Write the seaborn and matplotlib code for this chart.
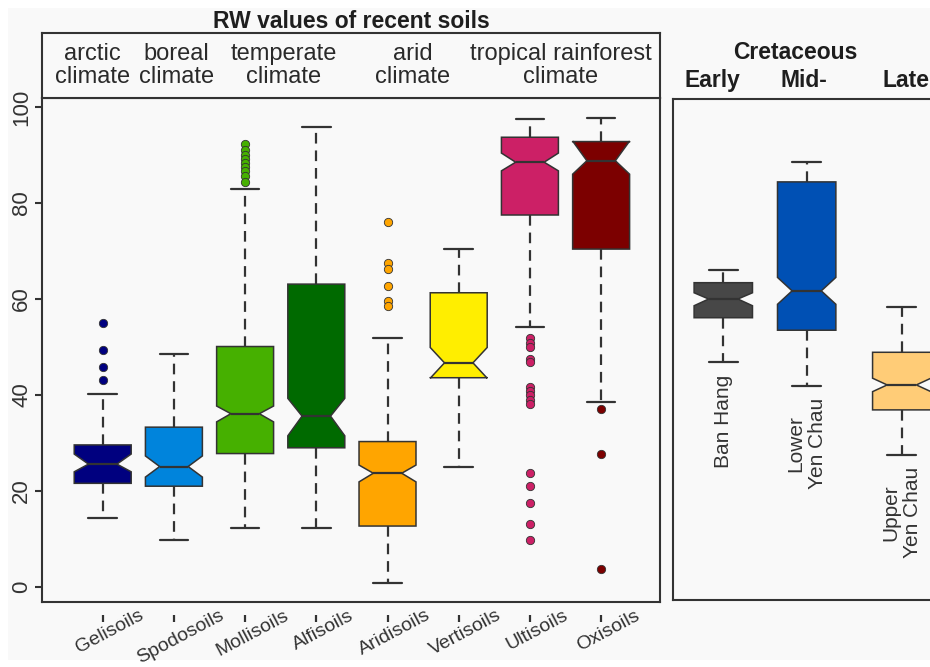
import matplotlib
matplotlib.use("Agg")
import matplotlib.pyplot as plt
import matplotlib.transforms as mtransforms
from matplotlib.patches import Rectangle
import seaborn as sns

# ---- recent soils: RW box statistics ----
soil_orders = ["Gelisoils", "Spodosoils", "Mollisoils", "Alfisoils",
               "Aridisoils", "Vertisoils", "Ultisoils", "Oxisoils"]
soil_whislo = [14.4, 9.8, 12.2, 12.2, 0.8, 24.9, 54.2, 38.6]
soil_q1 = [21.6, 21.0, 27.8, 29.0, 12.7, 43.6, 77.5, 70.4]
soil_cilo = [24.0, 22.9, 34.4, 31.5, 21.9, 43.5, 86.7, 86.0]
soil_median = [25.6, 25.1, 36.1, 35.6, 23.7, 46.7, 88.5, 88.8]
soil_cihi = [27.7, 27.3, 37.7, 39.3, 25.4, 49.9, 90.4, 92.9]
soil_q3 = [29.6, 33.3, 50.1, 63.1, 30.3, 61.3, 93.7, 92.8]
soil_whishi = [40.3, 48.5, 83.0, 95.9, 51.9, 70.5, 97.6, 97.8]
soil_outliers = [
    [55.1, 49.4, 45.9, 43.1],
    [],
    [92.3, 91.0, 90.1, 89.2, 88.3, 87.6, 86.7, 85.6, 84.4],
    [],
    [76.1, 67.4, 66.2, 62.7, 59.6, 58.5],
    [],
    [51.8, 50.9, 50.1, 47.6, 46.8, 41.7, 40.8, 39.9, 39.0, 38.1,
     23.8, 21.0, 17.6, 13.1, 9.8],
    [37.0, 27.8, 3.7],
]
soil_colors = ["#00007f", "#0084dc", "#46b000", "#006a00",
               "#ffa500", "#ffee00", "#cc2066", "#7c0000"]

climate_labels = ["arctic\nclimate", "boreal\nclimate", "temperate\nclimate",
                  "arid\nclimate", "tropical rainforest\nclimate"]

# ---- Cretaceous sites ----
site_names = ["Ban Hang", "Lower\nYen Chau", "Upper\nYen Chau"]
site_whislo = [46.8, 41.9, 27.5]
site_q1 = [56.1, 53.5, 36.9]
site_cilo = [58.6, 58.9, 40.7]
site_median = [60.0, 61.7, 42.1]
site_cihi = [61.3, 64.5, 43.5]
site_q3 = [63.4, 84.4, 48.9]
site_whishi = [66.0, 88.5, 58.3]
site_colors = ["#474747", "#0050b4", "#ffcc77"]
period_labels = ["Early", "Mid-", "Late"]

# ---- layout ----
soil_pos = list(range(1, len(soil_orders) + 1))
climate_pos = [0.857, 2.036, 3.546, 5.351, 7.43]
site_pos = [1.0, 2.0, 3.14]
period_pos = [0.865, 1.968, 3.19]

INK = "#333333"
BG = "#f9f9f9"

sns.set_theme(style="ticks")
plt.rcParams["font.family"] = ["Liberation Sans", "DejaVu Sans"]
plt.rcParams["axes.facecolor"] = BG

W, H = 930, 667
fig = plt.figure(figsize=(W / 100, H / 100), dpi=100, facecolor="white")
fig.add_artist(Rectangle((8 / W, 7 / H), 1, (660 - 8) / H,
                         transform=fig.transFigure, facecolor=BG,
                         edgecolor="none", zorder=-10))


def px_axes(left, top, right, bottom):
    return [left / W, 1 - bottom / H, (right - left) / W, (bottom - top) / H]


def box_stats(names, lo, q1, cilo, med, cihi, q3, hi, fliers):
    return [dict(label=n, whislo=a, q1=b, cilo=c, med=d, cihi=e, q3=f,
                 whishi=g, fliers=h)
            for n, a, b, c, d, e, f, g, h in
            zip(names, lo, q1, cilo, med, cihi, q3, hi, fliers)]


box_kw = dict(shownotches=True, patch_artist=True, showfliers=True,
              manage_ticks=False,
              boxprops=dict(edgecolor=INK, linewidth=1.1),
              whiskerprops=dict(color=INK, linewidth=1.6,
                                linestyle=(0, (4.8, 3.1))),
              capprops=dict(color=INK, linewidth=1.6),
              medianprops=dict(color=INK, linewidth=1.6),
              flierprops=dict(marker="o", markersize=6,
                              markeredgecolor=INK, markeredgewidth=0.6,
                              linestyle="none"))


def style_spines(ax, sides=("left", "right", "top", "bottom")):
    for s, sp in ax.spines.items():
        sp.set_visible(s in sides)
        sp.set_color(INK)
        sp.set_linewidth(1.5)


# ---- left panel: recent soils ----
ax = fig.add_axes(px_axes(42, 98, 660, 602))
soil_stats = box_stats(soil_orders, soil_whislo, soil_q1, soil_cilo,
                       soil_median, soil_cihi, soil_q3, soil_whishi,
                       soil_outliers)
art = ax.bxp(soil_stats, positions=soil_pos, widths=0.8, capwidths=0.4,
             **box_kw)
for patch, c in zip(art["boxes"], soil_colors):
    patch.set_facecolor(c)
for fl, c in zip(art["fliers"], soil_colors):
    fl.set_markerfacecolor(c)

ax.set_xlim(0.1475, 8.827)
ax.set_ylim(-3.125, 101.875)
ax.set_yticks([0, 20, 40, 60, 80, 100])
ax.set_xticks([])
ax.tick_params(axis="y", length=5, width=1.5, color=INK, labelcolor=INK,
               labelsize=16, labelrotation=90, pad=2)
for lab in ax.get_yticklabels():
    lab.set_va("center")
style_spines(ax)
ax.grid(False)

# detached tick marks below the panel
sec = ax.secondary_xaxis(-13 / 504)
sec.set_xticks(soil_pos)
sec.set_xticklabels([])
sec.spines["bottom"].set_visible(False)
sec.tick_params(axis="x", length=5, width=1.6, color=INK, direction="out")

lab_tr = mtransforms.blended_transform_factory(ax.transData, ax.transAxes) + \
    mtransforms.ScaledTranslation(0.07, 0, fig.dpi_scale_trans)
for p, name in zip(soil_pos, soil_orders):
    ax.text(p, -5 / 504, name, transform=lab_tr, rotation=28, ha="center",
            va="top", fontsize=14, color=INK)

# header strip with climate zones
strip = fig.add_axes(px_axes(42, 33, 660, 98))
strip.set_xlim(ax.get_xlim())
strip.set_ylim(0, 1)
strip.set_xticks([])
strip.set_yticks([])
style_spines(strip)
for p, txt in zip(climate_pos, climate_labels):
    strip.text(p, 0.5, txt, ha="center", va="center", fontsize=17,
               color="#2a2a2a", linespacing=1.08)
strip.set_title("RW values of recent soils", fontweight="bold",
                fontsize=16.5, pad=3.4, color="#1e1e1e")

# ---- right panel: Cretaceous sites ----
axr = fig.add_axes(px_axes(673, 99, 1000, 600))
site_stats = box_stats(site_names, site_whislo, site_q1, site_cilo,
                       site_median, site_cihi, site_q3, site_whishi,
                       [[], [], []])
art_r = axr.bxp(site_stats, positions=site_pos, widths=0.7, capwidths=0.35,
                **box_kw)
for patch, c in zip(art_r["boxes"], site_colors):
    patch.set_facecolor(c)
axr.set_xlim(0.397, 4.318)
axr.set_ylim(-2.708, 101.67)
axr.set_xticks([])
axr.set_yticks([])
style_spines(axr, sides=("left", "top", "bottom"))
axr.grid(False)

name_tr = axr.transData + mtransforms.ScaledTranslation(0, -0.12,
                                                        fig.dpi_scale_trans)
for p, lo, name in zip(site_pos, site_whislo, site_names):
    axr.text(p, lo, name, transform=name_tr, rotation=90, ha="center",
             va="top", fontsize=15, color=INK, multialignment="center",
             linespacing=1.2)

hdr_tr = mtransforms.blended_transform_factory(axr.transData, axr.transAxes)
axr.text(1.86, (600 - 59) / 501, "Cretaceous", transform=hdr_tr,
         ha="center", va="baseline", fontsize=16.5, fontweight="bold",
         color="#1e1e1e")
for p, txt in zip(period_pos, period_labels):
    axr.text(p, (600 - 86.7) / 501, txt, transform=hdr_tr, ha="center",
             va="baseline", fontsize=16.5, fontweight="bold",
             color="#1e1e1e")

fig.savefig("out.png", dpi=100, facecolor=fig.get_facecolor())
